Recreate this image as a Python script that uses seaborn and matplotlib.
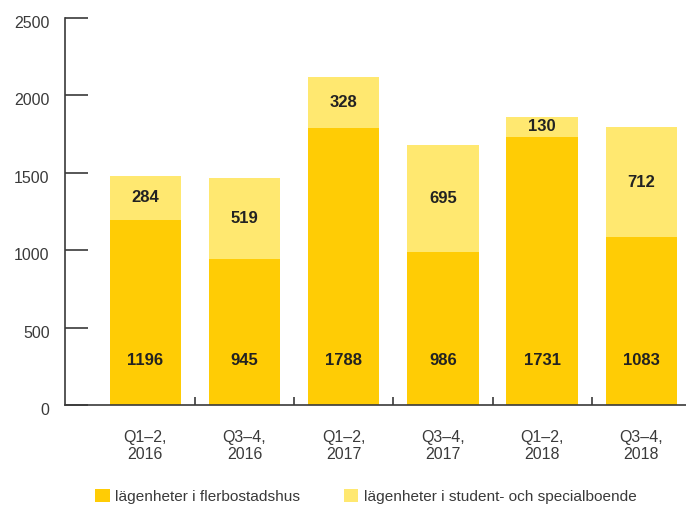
import pandas as pd
import matplotlib.pyplot as plt
import matplotlib.transforms as mtransforms
import seaborn as sns
from matplotlib.patches import Patch
from matplotlib.ticker import FixedLocator

# Data
periods = ['Q1–2,\n2016', 'Q3–4,\n2016', 'Q1–2,\n2017', 'Q3–4,\n2017', 'Q1–2,\n2018', 'Q3–4,\n2018']
flerbostad = [1196, 945, 1788, 986, 1731, 1083]
student = [284, 519, 328, 695, 130, 712]
series_names = ['lägenheter i flerbostadshus', 'lägenheter i student- och specialboende']

dark = '#FFCC05'
light = '#FFE870'
text_col = '#3a3a3a'

df = pd.DataFrame({'period': periods, 'flerbostad': flerbostad, 'student': student})
df['total'] = df['flerbostad'] + df['student']

sns.set_style('white')
plt.rcParams['font.family'] = ['Liberation Sans', 'DejaVu Sans']

fig = plt.figure(figsize=(6.86, 5.05), dpi=100)
ax = fig.add_axes([65 / 686, 1 - 405 / 505, 1 - 65 / 686, (405 - 18) / 505])

sns.barplot(data=df, x='period', y='total', color=light, saturation=1, width=0.72,
            linewidth=0, ax=ax)
sns.barplot(data=df, x='period', y='flerbostad', color=dark, saturation=1, width=0.72,
            linewidth=0, ax=ax)

# Value labels
for i, row in df.iterrows():
    ax.text(i, 285, str(row['flerbostad']), ha='center', va='center',
            fontsize=12, fontweight='bold', color='#222222')
    ax.text(i, row['flerbostad'] + row['student'] / 2, str(row['student']),
            ha='center', va='center', fontsize=12, fontweight='bold', color='#222222')

ax.set_ylim(0, 2500)
ax.set_xlim(-0.81, 5.45)
ax.set_yticks([0, 500, 1000, 1500, 2000, 2500])
ax.set_xlabel('')
ax.set_ylabel('')

for side in ['top', 'right']:
    ax.spines[side].set_visible(False)
for side in ['left', 'bottom']:
    ax.spines[side].set_color(text_col)
    ax.spines[side].set_linewidth(1.2)

ax.tick_params(axis='y', direction='in', length=16.5, width=1.2, color=text_col,
               labelsize=11.5, labelcolor=text_col, pad=11, left=True)
ax.tick_params(axis='x', which='major', length=0, labelsize=11.5, labelcolor=text_col, pad=18)
ax.xaxis.set_minor_locator(FixedLocator([0.5, 1.5, 2.5, 3.5, 4.5]))
ax.tick_params(axis='x', which='minor', direction='in', length=6, width=1.2,
               color=text_col, bottom=True)
for lbl in ax.get_xticklabels():
    lbl.set_linespacing(1.15)

# y tick labels sit a little below their ticks in the original
shift = mtransforms.ScaledTranslation(0, -4 / 100, fig.dpi_scale_trans)
for lbl in ax.get_yticklabels():
    lbl.set_transform(lbl.get_transform() + shift)

handles = [Patch(facecolor=dark, edgecolor='none'), Patch(facecolor=light, edgecolor='none')]
fig.legend(handles, series_names, loc='lower left', bbox_to_anchor=(81 / 686, -0.025),
           ncol=2, frameon=False, fontsize=11.1, handlelength=0.95, handleheight=0.95,
           handletextpad=0.35, columnspacing=2.85, labelcolor=text_col)

fig.savefig('out.png', dpi=100)
